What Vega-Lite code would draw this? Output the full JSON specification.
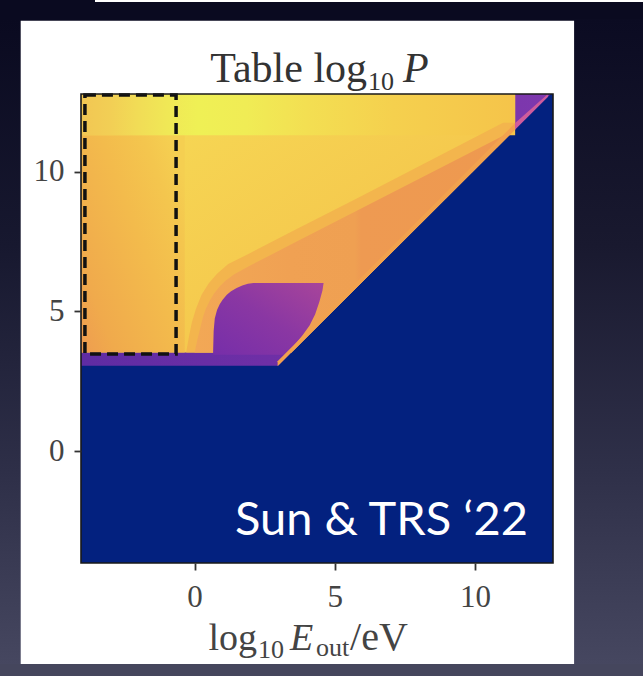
{
  "$schema": "https://vega.github.io/schema/vega-lite/v6.json",
  "width": 472,
  "height": 469,
  "autosize": {"type": "none"},
  "padding": {"left": 81, "top": 94, "right": 90, "bottom": 113},
  "background": "#ffffff",
  "config": {"view": {"stroke": null}},
  "datasets": {
    "purple": [
      {"x": -4.05, "lo": 3.06, "hi": 12.78},
      {"x": 2.98, "lo": 3.06, "hi": 12.78},
      {"x": 12.7, "lo": 12.78, "hi": 12.78}
    ],
    "main": [
      {"x": -4.05, "lo": 3.53, "hi": 12.78},
      {"x": 3.45, "lo": 3.53, "hi": 12.78},
      {"x": 11.43, "lo": 11.51, "hi": 12.78}
    ],
    "bandSoft": [
      {"x": -0.3, "lo": 3.53, "hi": 3.53},
      {"x": -0.2, "lo": 3.53, "hi": 4.1},
      {"x": -0.1, "lo": 3.53, "hi": 4.6},
      {"x": 0.05, "lo": 3.53, "hi": 5.1},
      {"x": 0.25, "lo": 3.53, "hi": 5.6},
      {"x": 0.5, "lo": 3.53, "hi": 6.0},
      {"x": 0.8, "lo": 3.53, "hi": 6.35},
      {"x": 1.2, "lo": 3.53, "hi": 6.7},
      {"x": 1.9, "lo": 3.53, "hi": 7.05},
      {"x": 3.45, "lo": 3.53, "hi": 7.85},
      {"x": 5.8, "lo": 5.88, "hi": 9.05},
      {"x": 11.0, "lo": 11.08, "hi": 11.75},
      {"x": 11.43, "lo": 11.51, "hi": 11.75}
    ],
    "band": [
      {"x": 0.0, "lo": 3.53, "hi": 3.53},
      {"x": 0.1, "lo": 3.53, "hi": 4.0},
      {"x": 0.2, "lo": 3.53, "hi": 4.4},
      {"x": 0.3, "lo": 3.53, "hi": 4.8},
      {"x": 0.4, "lo": 3.53, "hi": 5.1},
      {"x": 0.55, "lo": 3.53, "hi": 5.4},
      {"x": 0.7, "lo": 3.53, "hi": 5.65},
      {"x": 0.9, "lo": 3.53, "hi": 5.9},
      {"x": 1.1, "lo": 3.53, "hi": 6.1},
      {"x": 1.4, "lo": 3.53, "hi": 6.32},
      {"x": 1.9, "lo": 3.53, "hi": 6.6},
      {"x": 3.45, "lo": 3.53, "hi": 7.4},
      {"x": 5.8, "lo": 5.88, "hi": 8.61},
      {"x": 11.43, "lo": 11.51, "hi": 11.51}
    ],
    "bump": [
      {"x": 0.66, "lo": 3.45, "hi": 3.53},
      {"x": 0.68, "lo": 3.45, "hi": 4.3},
      {"x": 0.72, "lo": 3.45, "hi": 4.75},
      {"x": 0.8, "lo": 3.45, "hi": 5.05},
      {"x": 0.9, "lo": 3.45, "hi": 5.27},
      {"x": 1.0, "lo": 3.45, "hi": 5.42},
      {"x": 1.15, "lo": 3.45, "hi": 5.6},
      {"x": 1.3, "lo": 3.45, "hi": 5.72},
      {"x": 1.5, "lo": 3.45, "hi": 5.84},
      {"x": 1.7, "lo": 3.45, "hi": 5.93},
      {"x": 1.9, "lo": 3.45, "hi": 5.99},
      {"x": 2.1, "lo": 3.45, "hi": 6.02},
      {"x": 3.3, "lo": 3.45, "hi": 6.02},
      {"x": 3.55, "lo": 3.78, "hi": 6.02},
      {"x": 3.85, "lo": 4.15, "hi": 6.02},
      {"x": 4.1, "lo": 4.5, "hi": 6.02},
      {"x": 4.3, "lo": 4.9, "hi": 6.02},
      {"x": 4.45, "lo": 5.35, "hi": 6.02},
      {"x": 4.56, "lo": 5.75, "hi": 6.02},
      {"x": 4.6, "lo": 6.02, "hi": 6.02}
    ],
    "diagOrange": [
      {"x": 2.96, "lo": 3.04, "hi": 3.22},
      {"x": 11.43, "lo": 11.51, "hi": 11.74}
    ],
    "diagPink": [
      {"x": 11.43, "lo": 11.51, "hi": 11.74},
      {"x": 12.6, "lo": 12.68, "hi": 12.78}
    ]
  },
  "layer": [
    {
      "data": {"values": [{}]},
      "mark": {"type": "rect", "color": "#0a0a20"},
      "encoding": {
        "x": {"datum": -7.5, "type": "quantitative", "scale": {"domain": [-4.05, 12.78], "nice": false, "zero": false}},
        "x2": {"datum": 16.5},
        "y": {"datum": 15.403, "type": "quantitative", "scale": {"domain": [-4, 12.78], "nice": false, "zero": false}},
        "y2": {"datum": 16.072}
      }
    },
    {
      "data": {"values": [{}]},
      "mark": {"type": "rect", "color": "#0a0a20"},
      "encoding": {"x": {"datum": -7.5}, "x2": {"datum": -3.551}, "y": {"datum": 16.0}, "y2": {"datum": 16.7}}
    },
    {
      "data": {"values": [{}]},
      "mark": {"type": "rect", "fill": {"gradient": "linear", "x1": 0, "y1": 0, "x2": 0, "y2": 1, "stops": [{"offset": 0, "color": "#0a0a20"}, {"offset": 0.35, "color": "#17182f"}, {"offset": 0.7, "color": "#2e2f48"}, {"offset": 1, "color": "#464760"}]}},
      "encoding": {"x": {"datum": -7.5}, "x2": {"datum": -6.2}, "y": {"datum": -7.65}, "y2": {"datum": 15.45}}
    },
    {
      "data": {"values": [{}]},
      "mark": {"type": "rect", "fill": {"gradient": "linear", "x1": 0, "y1": 0, "x2": 0, "y2": 1, "stops": [{"offset": 0, "color": "#0b0b22"}, {"offset": 0.35, "color": "#19192f"}, {"offset": 0.7, "color": "#2f3049"}, {"offset": 1, "color": "#464760"}]}},
      "encoding": {"x": {"datum": 13.532}, "x2": {"datum": 16.5}, "y": {"datum": -7.65}, "y2": {"datum": 15.45}}
    },
    {
      "data": {"values": [{}]},
      "mark": {"type": "rect", "color": "#45465d"},
      "encoding": {"x": {"datum": -7.5}, "x2": {"datum": 16.5}, "y": {"datum": -8.6}, "y2": {"datum": -7.614}}
    },
    {
      "data": {"values": [{}]},
      "mark": {"type": "rect", "color": "#03217f"},
      "encoding": {"x": {"datum": -4.05}, "x2": {"datum": 12.78}, "y": {"datum": -4}, "y2": {"datum": 12.78}}
    },
    {
      "data": {"name": "purple"},
      "mark": {"type": "area", "interpolate": "linear", "color": {"gradient": "linear", "x1": 0, "y1": 0, "x2": 1, "y2": 0, "stops": [{"offset": 0, "color": "#5f2ca3"}, {"offset": 0.4, "color": "#6e2fa6"}, {"offset": 1, "color": "#7e38ae"}]}},
      "encoding": {
        "x": {"field": "x", "type": "quantitative",
          "axis": {"values": [0, 5, 10], "title": null, "grid": false, "domain": false, "zindex": 1, "tickSize": 7, "tickWidth": 1.8, "tickColor": "#333333", "labelFont": "Liberation Serif", "labelFontSize": 31, "labelColor": "#444444", "labelPadding": 12, "labelFlush": false, "labelOverlap": false}},
        "y": {"field": "lo", "type": "quantitative",
          "axis": {"values": [0, 5, 10], "title": null, "grid": false, "domain": false, "zindex": 1, "tickSize": 7, "tickWidth": 1.8, "tickColor": "#333333", "labelFont": "Liberation Serif", "labelFontSize": 31, "labelColor": "#444444", "labelPadding": 10, "labelFlush": false, "labelOverlap": false}},
        "y2": {"field": "hi"}
      }
    },
    {
      "data": {"name": "main"},
      "mark": {"type": "area", "interpolate": "linear", "color": {"gradient": "linear", "x1": 0.25, "y1": 0.15, "x2": 1, "y2": 0.8, "stops": [{"offset": 0, "color": "#f6d553"}, {"offset": 0.5, "color": "#f5ca4e"}, {"offset": 1, "color": "#f4b848"}]}},
      "encoding": {"x": {"field": "x", "type": "quantitative"}, "y": {"field": "lo", "type": "quantitative"}, "y2": {"field": "hi"}}
    },
    {
      "data": {"values": [{}]},
      "mark": {"type": "rect", "fill": {"gradient": "linear", "x1": 0, "y1": 1, "x2": 1, "y2": 0.2, "stops": [{"offset": 0, "color": "#ee9c50"}, {"offset": 0.2, "color": "#f0aa4c"}, {"offset": 0.6, "color": "#f3bb4c"}, {"offset": 0.85, "color": "#f4c64e"}, {"offset": 1, "color": "#f5cf51"}]}},
      "encoding": {"x": {"datum": -4.05}, "x2": {"datum": -0.35}, "y": {"datum": 3.53}, "y2": {"datum": 11.3}}
    },
    {
      "data": {"values": [{}]},
      "mark": {"type": "rect", "fill": {"gradient": "linear", "x1": 0, "y1": 0, "x2": 1, "y2": 0, "stops": [{"offset": 0, "color": "#f2c653"}, {"offset": 0.07, "color": "#f2cf55"}, {"offset": 0.13, "color": "#f1dc56"}, {"offset": 0.2, "color": "#f0e856"}, {"offset": 0.27, "color": "#eff055"}, {"offset": 0.38, "color": "#f0ec55"}, {"offset": 0.52, "color": "#f3df52"}, {"offset": 0.72, "color": "#f5d04e"}, {"offset": 1, "color": "#f5c44a"}]}},
      "encoding": {"x": {"datum": -4.05}, "x2": {"datum": 11.43}, "y": {"datum": 11.3}, "y2": {"datum": 12.78}}
    },
    {
      "data": {"name": "bandSoft"},
      "mark": {"type": "area", "interpolate": "linear", "color": "#f3b54d"},
      "encoding": {"x": {"field": "x", "type": "quantitative"}, "y": {"field": "lo", "type": "quantitative"}, "y2": {"field": "hi"}}
    },
    {
      "data": {"name": "band"},
      "mark": {"type": "area", "interpolate": "linear", "color": {"gradient": "linear", "x1": 0, "y1": 0, "x2": 1, "y2": 0, "stops": [{"offset": 0, "color": "#f2a856"}, {"offset": 0.3, "color": "#f0a153"}, {"offset": 0.5, "color": "#efa052"}, {"offset": 0.52, "color": "#ee9a52"}, {"offset": 1, "color": "#ee994f"}]}},
      "encoding": {"x": {"field": "x", "type": "quantitative"}, "y": {"field": "lo", "type": "quantitative"}, "y2": {"field": "hi"}}
    },
    {
      "data": {"name": "bump"},
      "mark": {"type": "area", "interpolate": "linear", "color": {"gradient": "linear", "x1": 0, "y1": 1, "x2": 1, "y2": 0, "stops": [{"offset": 0, "color": "#762ea9"}, {"offset": 0.5, "color": "#8a37a3"}, {"offset": 1, "color": "#a8459a"}]}},
      "encoding": {"x": {"field": "x", "type": "quantitative"}, "y": {"field": "lo", "type": "quantitative"}, "y2": {"field": "hi"}}
    },
    {
      "data": {"name": "diagOrange"},
      "mark": {"type": "area", "interpolate": "linear", "color": "#f2a24e"},
      "encoding": {"x": {"field": "x", "type": "quantitative"}, "y": {"field": "lo", "type": "quantitative"}, "y2": {"field": "hi"}}
    },
    {
      "data": {"name": "diagPink"},
      "mark": {"type": "area", "interpolate": "linear", "color": "#cf5c9c"},
      "encoding": {"x": {"field": "x", "type": "quantitative"}, "y": {"field": "lo", "type": "quantitative"}, "y2": {"field": "hi"}}
    },
    {
      "data": {"values": [{}]},
      "mark": {"type": "rect", "filled": false, "stroke": "#111111", "strokeWidth": 3.5, "strokeDash": [11, 6]},
      "encoding": {"x": {"datum": -3.91}, "x2": {"datum": -0.66}, "y": {"datum": 3.48}, "y2": {"datum": 12.74}}
    },
    {
      "data": {"values": [{}]},
      "mark": {"type": "rect", "filled": false, "stroke": "#1a1a1a", "strokeWidth": 1.6},
      "encoding": {"x": {"datum": -4.05}, "x2": {"datum": 12.78}, "y": {"datum": -4}, "y2": {"datum": 12.78}}
    },
    {
      "data": {"values": [{}]},
      "mark": {"type": "text", "text": "Table log", "font": "Liberation Serif", "fontSize": 42, "align": "right", "baseline": "alphabetic", "color": "#333333"},
      "encoding": {"x": {"datum": 6.15}, "y": {"datum": 13.209}}
    },
    {
      "data": {"values": [{}]},
      "mark": {"type": "text", "text": "10", "font": "Liberation Serif", "fontSize": 26, "align": "left", "baseline": "alphabetic", "color": "#333333"},
      "encoding": {"x": {"datum": 6.186}, "y": {"datum": 12.923}}
    },
    {
      "data": {"values": [{}]},
      "mark": {"type": "text", "text": "P", "font": "Liberation Serif", "fontStyle": "italic", "fontSize": 42, "align": "left", "baseline": "alphabetic", "color": "#333333"},
      "encoding": {"x": {"datum": 7.434}, "y": {"datum": 13.209}}
    },
    {
      "data": {"values": [{}]},
      "mark": {"type": "text", "text": "log", "font": "Liberation Serif", "fontSize": 38, "align": "right", "baseline": "alphabetic", "color": "#444444"},
      "encoding": {"x": {"datum": 2.227}, "y": {"datum": -7.113}}
    },
    {
      "data": {"values": [{}]},
      "mark": {"type": "text", "text": "10", "font": "Liberation Serif", "fontSize": 26, "align": "left", "baseline": "alphabetic", "color": "#444444"},
      "encoding": {"x": {"datum": 2.262}, "y": {"datum": -7.4}}
    },
    {
      "data": {"values": [{}]},
      "mark": {"type": "text", "text": "E", "font": "Liberation Serif", "fontStyle": "italic", "fontSize": 38, "align": "left", "baseline": "alphabetic", "color": "#444444"},
      "encoding": {"x": {"datum": 3.404}, "y": {"datum": -7.113}}
    },
    {
      "data": {"values": [{}]},
      "mark": {"type": "text", "text": "out", "font": "Liberation Serif", "fontSize": 26, "align": "left", "baseline": "alphabetic", "color": "#444444"},
      "encoding": {"x": {"datum": 4.331}, "y": {"datum": -7.327}}
    },
    {
      "data": {"values": [{}]},
      "mark": {"type": "text", "text": "/eV", "font": "Liberation Serif", "fontSize": 40, "align": "left", "baseline": "alphabetic", "color": "#444444"},
      "encoding": {"x": {"datum": 5.543}, "y": {"datum": -7.113}}
    },
    {
      "data": {"values": [{}]},
      "mark": {"type": "text", "text": "Sun & TRS ‘22", "font": "Lato", "fontSize": 47, "align": "left", "baseline": "alphabetic", "color": "#ffffff"},
      "encoding": {"x": {"datum": 1.442}, "y": {"datum": -2.998}}
    }
  ]
}
